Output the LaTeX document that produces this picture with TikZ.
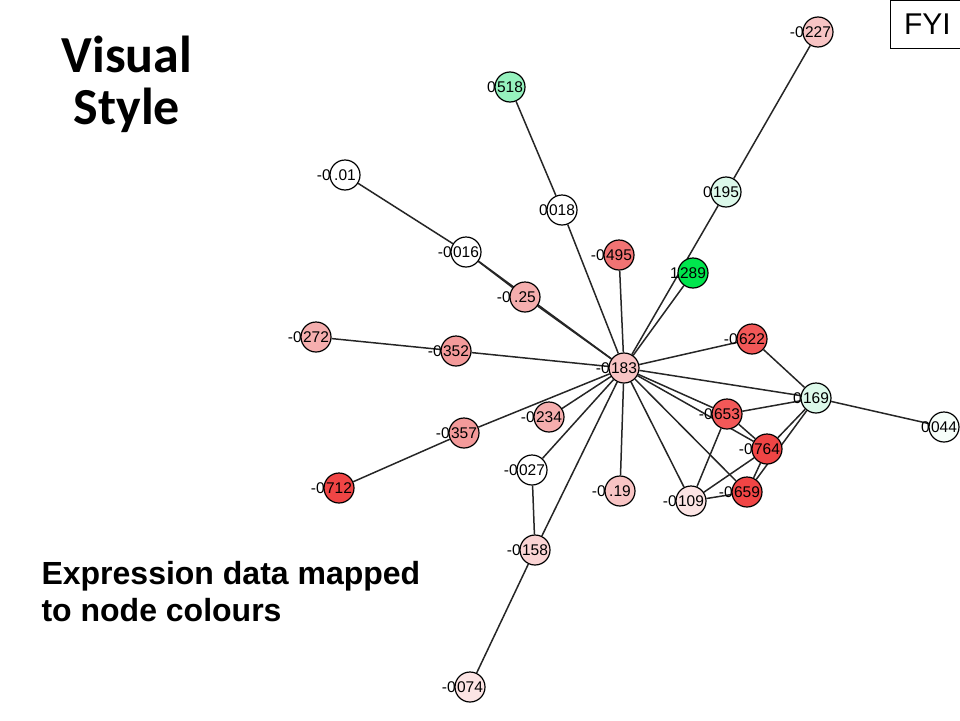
\documentclass[tikz,border=0pt]{standalone}
\usepackage{fontspec}
\setmainfont{Liberation Sans}
\newfontfamily\titlefont{Carlito}
\usetikzlibrary{backgrounds}

\definecolor{cwhite}{HTML}{FFFFFF}
\definecolor{cgreenA}{HTML}{00E64D}
\definecolor{cgreenB}{HTML}{96F2BE}
\definecolor{cgreenC}{HTML}{DCF9EA}
\definecolor{cgreenD}{HTML}{F6FEF9}
\definecolor{credA}{HTML}{F04545}
\definecolor{credB}{HTML}{F25858}
\definecolor{credC}{HTML}{F17373}
\definecolor{credD}{HTML}{F39A9A}
\definecolor{credE}{HTML}{F5AEAE}
\definecolor{credF}{HTML}{F8C4C4}
\definecolor{credG}{HTML}{FAD4D4}
\definecolor{credH}{HTML}{FCE4E4}

\begin{document}
\begin{tikzpicture}[
    x=1pt, y=-1pt,
    gnode/.style={draw, circle, line width=1.2pt, minimum size=30pt, inner sep=0pt,
        font=\fontsize{15.5}{17}\selectfont},
    lbl/.style={inner sep=0pt, label distance=-1.5pt, font=\fontsize{15.5}{17}\selectfont},
    link/.style={line width=1.5pt, black!85}
]
    \useasboundingbox (0,0) rectangle (960,720);

    % Titles
    \node[font=\titlefont\bfseries\fontsize{52}{52}\selectfont, align=center] (title) at (127,84) {Visual\\Style};
    \node[font=\bfseries\fontsize{32}{37}\selectfont, align=left, anchor=north west] (caption) at (38,558) {Expression data mapped\\to node colours};
    \node[draw, line width=0.8pt, font=\fontsize{30}{32}\selectfont, minimum width=74pt, minimum height=48pt, anchor=north west] (fyi) at (890,0) {FYI};

    % Nodes
    \node[gnode, fill=credF, label={[lbl]left:-0}] (n183) at (624,368) {183};
    \node[gnode, fill=credF, label={[lbl]left:-0}] (n227) at (818,32) {227};
    \node[gnode, fill=cgreenB, label={[lbl]left:0}] (n518) at (510,87) {518};
    \node[gnode, fill=cwhite, label={[lbl]left:-0}] (n001) at (345,175) {.01};
    \node[gnode, fill=cwhite, label={[lbl]left:0}] (n018) at (562,210) {018};
    \node[gnode, fill=cgreenC, label={[lbl]left:0}] (n195) at (726,192) {195};
    \node[gnode, fill=cwhite, label={[lbl]left:-0}] (n016) at (466,252) {016};
    \node[gnode, fill=credC, label={[lbl]left:-0}] (n495) at (619,255) {495};
    \node[gnode, fill=cgreenA, label={[lbl]left:1}] (n289) at (693,273) {289};
    \node[gnode, fill=credE, label={[lbl]left:-0}] (n025) at (525,297) {.25};
    \node[gnode, fill=credE, label={[lbl]left:-0}] (n272) at (316,337) {272};
    \node[gnode, fill=credD, label={[lbl]left:-0}] (n352) at (456,351) {352};
    \node[gnode, fill=credB, label={[lbl]left:-0}] (n622) at (752,339) {622};
    \node[gnode, fill=cgreenC, label={[lbl]left:0}] (n169) at (816,398) {169};
    \node[gnode, fill=cgreenD, label={[lbl]left:0}] (n044) at (944,427) {044};
    \node[gnode, fill=credB, label={[lbl]left:-0}] (n653) at (727,414) {653};
    \node[gnode, fill=credE, label={[lbl]left:-0}] (n234) at (549,417) {234};
    \node[gnode, fill=credD, label={[lbl]left:-0}] (n357) at (464,433) {357};
    \node[gnode, fill=credA, label={[lbl]left:-0}] (n764) at (767,449) {764};
    \node[gnode, fill=cwhite, label={[lbl]left:-0}] (n027) at (532,470) {027};
    \node[gnode, fill=credA, label={[lbl]left:-0}] (n712) at (339,488) {712};
    \node[gnode, fill=credF, label={[lbl]left:-0}] (n019) at (620,491) {.19};
    \node[gnode, fill=credH, label={[lbl]left:-0}] (n109) at (691,501) {109};
    \node[gnode, fill=credA, label={[lbl]left:-0}] (n659) at (747,492) {659};
    \node[gnode, fill=credG, label={[lbl]left:-0}] (n158) at (535,550) {158};
    \node[gnode, fill=credH, label={[lbl]left:-0}] (n074) at (470,687) {074};

    % Edges
    \begin{scope}[on background layer]
        \foreach \t in {n018, n495, n289, n195, n025, n016, n352, n357, n234,
                        n027, n158, n019, n109, n659, n653, n764, n169, n622}
            \draw[link] (n183) -- (\t);
        \draw[link] (n518) -- (n018);
        \draw[link] (n227) -- (n195);
        \draw[link] (n001) -- (n016);
        \draw[link] (n016) -- (n025);
        \draw[link] (n272) -- (n352);
        \draw[link] (n712) -- (n357);
        \draw[link] (n027) -- (n158);
        \draw[link] (n158) -- (n074);
        \draw[link] (n622) -- (n169);
        \draw[link] (n169) -- (n044);
        \draw[link] (n653) -- (n169);
        \draw[link] (n653) -- (n764);
        \draw[link] (n653) -- (n109);
        \draw[link] (n764) -- (n169);
        \draw[link] (n659) -- (n169);
        \draw[link] (n764) -- (n659);
        \draw[link] (n764) -- (n109);
        \draw[link] (n659) -- (n109);
    \end{scope}
\end{tikzpicture}
\end{document}
